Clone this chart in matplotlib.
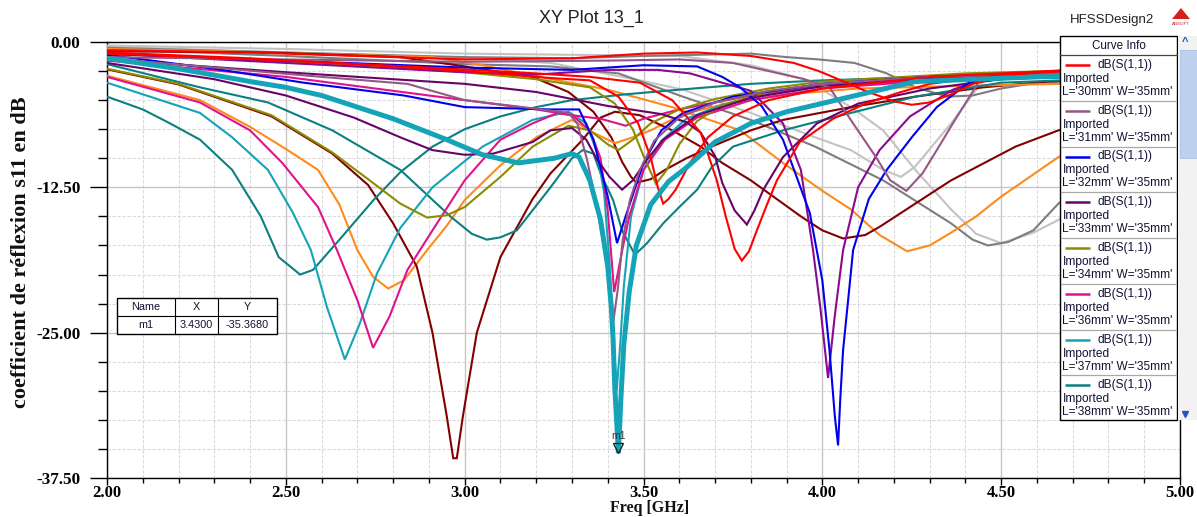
import matplotlib
matplotlib.use("Agg")
import matplotlib.pyplot as plt
from matplotlib.ticker import MultipleLocator, FormatStrFormatter
from matplotlib.patches import Rectangle, Polygon
import matplotlib.transforms as mtransforms

# ---------------------------------------------------------------- data (GHz, dB)
red_a_f = [2.0, 2.4, 2.8, 3.0, 3.3, 3.5, 3.65, 3.8, 3.92, 3.99, 4.06, 4.12, 4.2, 4.25, 4.3, 4.36, 4.42, 4.5, 4.6, 4.75, 5.0]
red_a_db = [-0.7, -0.9, -1.3, -1.5, -1.4, -1.0, -0.9, -1.2, -1.8, -2.5, -3.4, -4.2, -5.1, -5.4, -5.2, -4.5, -3.6, -3.0, -2.6, -2.3, -2.0]

red_b_f = [2.0, 2.4, 2.8, 3.0, 3.24, 3.35, 3.43, 3.485, 3.52, 3.54, 3.555, 3.57, 3.59, 3.63, 3.68, 3.75, 3.85, 4.0, 4.3, 4.7, 5.0]
red_b_db = [-0.9, -1.4, -2.1, -2.5, -3.1, -3.3, -4.7, -7.0, -9.9, -12.5, -13.9, -13.5, -12.7, -10.4, -8.2, -6.4, -5.0, -4.0, -3.0, -2.4, -2.1]

red_c_f = [2.0, 2.5, 2.9, 3.2, 3.35, 3.49, 3.58, 3.66, 3.705, 3.73, 3.755, 3.775, 3.795, 3.817, 3.845, 3.873, 3.937, 4.03, 4.12, 4.22, 4.3, 4.5, 4.75, 5.0]
red_c_db = [-1.0, -1.6, -2.2, -2.7, -3.0, -3.5, -5.0, -7.8, -11.9, -15.0, -17.8, -18.8, -18.0, -16.2, -14.0, -11.9, -8.6, -6.6, -5.3, -4.3, -3.6, -2.8, -2.4, -2.1]

mauve_a_f = [2.0, 2.3, 2.6, 2.84, 3.0, 3.19, 3.29, 3.315, 3.342, 3.37, 3.398, 3.415, 3.428, 3.442, 3.462, 3.49, 3.53, 3.6, 3.7, 3.85, 4.0, 4.3, 4.7, 5.0]
mauve_a_db = [-1.4, -2.2, -3.0, -3.6, -5.0, -5.7, -6.1, -7.0, -10.1, -14.2, -19.3, -24.2, -21.3, -17.0, -13.6, -11.0, -8.5, -6.5, -5.2, -4.2, -3.6, -3.0, -2.7, -2.5]

mauve_b_f = [2.0, 2.5, 3.0, 3.4, 3.6, 3.75, 3.85, 3.95, 4.02, 4.086, 4.15, 4.19, 4.235, 4.28, 4.32, 4.365, 4.44, 4.6, 5.0]
mauve_b_db = [-1.3, -1.5, -1.7, -1.6, -1.5, -1.8, -2.5, -3.2, -3.9, -7.0, -9.9, -11.9, -12.8, -11.3, -9.3, -7.0, -3.3, -2.7, -2.3]

blue_a_f = [2.0, 2.3, 2.55, 2.83, 3.0, 3.24, 3.32, 3.36, 3.40, 3.426, 3.45, 3.50, 3.55, 3.61, 3.75, 4.0, 4.3, 4.7, 5.0]
blue_a_db = [-1.1, -2.3, -3.5, -4.6, -5.6, -5.8, -5.8, -8.4, -13.3, -17.3, -15.0, -10.4, -7.6, -6.1, -4.7, -3.6, -3.0, -2.6, -2.4]

blue_b_f = [2.0, 2.5, 3.0, 3.3, 3.5, 3.65, 3.72, 3.77, 3.83, 3.89, 3.965, 4.0, 4.02, 4.035, 4.044, 4.05, 4.058, 4.077, 4.086, 4.13, 4.18, 4.25, 4.32, 4.41, 4.6, 5.0]
blue_b_db = [-1.0, -1.6, -2.2, -2.4, -2.0, -2.1, -3.0, -3.9, -5.5, -8.4, -14.7, -20.5, -26.5, -32.2, -34.7, -30.8, -26.5, -20.7, -17.9, -13.5, -11.0, -8.2, -5.6, -3.5, -2.8, -2.3]

dpurple_a_f = [2.0, 2.3, 2.5, 2.69, 2.82, 2.91, 3.0, 3.08, 3.19, 3.24, 3.30, 3.34, 3.37, 3.405, 3.44, 3.47, 3.51, 3.555, 3.65, 3.8, 4.0, 4.3, 4.7, 5.0]
dpurple_a_db = [-1.8, -3.2, -4.6, -6.5, -8.2, -9.3, -9.7, -9.6, -8.6, -7.6, -7.4, -8.4, -10.1, -11.6, -12.7, -11.9, -10.1, -8.4, -6.3, -4.8, -3.8, -3.1, -2.7, -2.5]

dpurple_b_f = [2.0, 2.5, 3.0, 3.2, 3.4, 3.55, 3.62, 3.66, 3.70, 3.72, 3.755, 3.789, 3.81, 3.835, 3.89, 3.985, 4.1, 4.3, 4.5, 5.0]
dpurple_b_db = [-1.5, -2.6, -3.6, -4.3, -5.5, -6.2, -6.9, -7.8, -9.8, -12.1, -14.5, -15.7, -14.5, -12.7, -9.9, -7.0, -5.3, -4.0, -3.2, -2.6]

violet_f = [2.0, 2.5, 3.0, 3.2, 3.40, 3.54, 3.63, 3.72, 3.80, 3.89, 3.94, 3.974, 3.995, 4.016, 4.035, 4.058, 4.1, 4.16, 4.245, 4.365, 4.44, 4.6, 5.0]
violet_db = [-1.0, -1.8, -2.6, -2.8, -2.4, -2.4, -2.7, -3.5, -4.2, -7.0, -11.0, -17.9, -23.0, -28.9, -23.5, -17.9, -12.5, -9.3, -6.4, -4.1, -3.3, -2.8, -2.3]

olive_a_f = [2.0, 2.2, 2.46, 2.63, 2.73, 2.82, 2.895, 2.95, 3.0, 3.1, 3.19, 3.29, 3.35, 3.40, 3.43, 3.47, 3.52, 3.6, 3.7, 3.85, 4.0, 4.4, 5.0]
olive_a_db = [-2.3, -3.6, -6.3, -9.5, -11.8, -13.9, -15.1, -14.9, -14.2, -11.6, -9.0, -7.2, -7.6, -8.8, -9.3, -8.4, -7.0, -5.8, -4.9, -4.0, -3.4, -2.7, -2.2]

olive_b_f = [2.0, 2.4, 2.8, 3.0, 3.2, 3.35, 3.42, 3.47, 3.50, 3.535, 3.565, 3.6, 3.65, 3.72, 3.85, 4.0, 4.4, 5.0]
olive_b_db = [-1.0, -1.5, -2.2, -2.6, -3.2, -3.9, -5.3, -7.5, -9.8, -12.2, -11.0, -8.8, -6.8, -5.4, -4.3, -3.6, -2.8, -2.2]

magenta_a_f = [2.0, 2.26, 2.40, 2.49, 2.59, 2.643, 2.70, 2.744, 2.79, 2.84, 2.91, 3.0, 3.10, 3.19, 3.26, 3.30, 3.35, 3.38, 3.40, 3.418, 3.44, 3.46, 3.5, 3.56, 3.65, 3.8, 4.0, 4.4, 5.0]
magenta_a_db = [-3.0, -5.2, -7.6, -10.4, -14.2, -17.9, -22.2, -26.3, -23.6, -19.6, -16.2, -11.9, -8.4, -7.0, -6.1, -6.3, -7.6, -10.0, -14.5, -21.5, -18.0, -15.0, -11.0, -8.4, -6.5, -5.0, -4.0, -3.1, -2.6]

magenta_b_f = [2.0, 2.5, 2.8, 3.0, 3.2, 3.3, 3.38, 3.45, 3.5, 3.6, 3.8, 4.0, 4.5, 5.0]
magenta_b_db = [-1.6, -3.0, -4.2, -5.0, -5.8, -6.3, -6.6, -7.2, -6.6, -5.8, -4.6, -3.8, -3.0, -2.6]

cyan_a_f = [2.0, 2.26, 2.35, 2.45, 2.52, 2.57, 2.615, 2.665, 2.707, 2.755, 2.82, 2.91, 3.05, 3.19, 3.29, 3.34, 3.37, 3.39, 3.405, 3.415, 3.425, 3.435, 3.445, 3.465, 3.5, 3.55, 3.62, 3.72, 3.85, 4.0, 4.3, 4.7, 5.0]
cyan_a_db = [-3.5, -6.1, -8.2, -11.0, -14.7, -17.9, -22.8, -27.3, -24.2, -19.9, -16.0, -12.5, -9.0, -6.7, -6.0, -7.0, -9.5, -13.0, -19.0, -25.0, -30.0, -26.0, -21.0, -15.0, -11.0, -8.5, -6.6, -5.4, -4.5, -3.8, -3.2, -2.8, -2.6]

cyan_b_f = [2.0, 2.2, 2.4, 2.5, 2.6, 2.8, 2.95, 3.05, 3.15, 3.25, 3.3, 3.32, 3.35, 3.38, 3.40, 3.41, 3.415, 3.42, 3.43, 3.437, 3.445, 3.46, 3.48, 3.52, 3.57, 3.62, 3.70, 3.8, 3.9, 4.08, 4.26, 4.6, 5.0]
cyan_b_db = [-1.4, -2.3, -3.4, -3.9, -4.6, -6.6, -8.4, -9.7, -10.4, -10.0, -9.6, -9.9, -11.9, -15.3, -19.3, -22.8, -25.6, -29.9, -35.368, -30.5, -26.0, -21.5, -17.5, -14.0, -12.0, -10.8, -8.6, -7.0, -6.0, -4.7, -3.4, -3.0, -2.8]

teal_a_f = [2.0, 2.1, 2.17, 2.26, 2.35, 2.43, 2.48, 2.54, 2.576, 2.65, 2.745, 2.82, 2.91, 3.0, 3.1, 3.2, 3.3, 3.45, 3.6, 3.8, 4.0, 4.3, 4.6, 5.0]
teal_a_db = [-4.7, -5.8, -6.9, -8.4, -11.0, -15.0, -18.5, -20.0, -19.6, -17.0, -13.6, -11.2, -9.0, -7.5, -6.4, -5.6, -5.0, -4.5, -4.1, -3.6, -3.3, -3.0, -2.8, -2.6]

teal_b_f = [2.0, 2.26, 2.45, 2.63, 2.82, 2.96, 3.02, 3.062, 3.10, 3.146, 3.24, 3.30, 3.33, 3.36, 3.38, 3.415, 3.44, 3.476, 3.51, 3.555, 3.60, 3.65, 3.69, 3.75, 3.89, 4.08, 4.26, 4.5, 5.0]
teal_b_db = [-1.9, -3.9, -5.2, -7.6, -11.0, -15.0, -16.5, -17.0, -16.8, -16.2, -12.5, -10.0, -9.3, -9.6, -11.3, -13.6, -16.2, -18.3, -17.3, -15.6, -14.2, -12.7, -10.8, -9.0, -7.6, -6.1, -4.7, -3.5, -2.9]

orange_a_f = [2.0, 2.45, 2.91, 3.05, 3.21, 3.40, 3.58, 3.77, 3.89, 4.0, 4.08, 4.16, 4.237, 4.30, 4.36, 4.43, 4.50, 4.58, 4.66, 4.8, 5.0]
orange_a_db = [-0.6, -0.9, -1.3, -2.0, -3.0, -4.1, -5.6, -7.6, -10.4, -12.8, -14.4, -16.6, -18.0, -17.5, -16.4, -15.0, -13.3, -11.6, -9.9, -7.6, -5.5]

orange_b_f = [2.0, 2.26, 2.40, 2.5, 2.59, 2.65, 2.70, 2.744, 2.786, 2.83, 2.895, 2.95, 3.0, 3.1, 3.2, 3.30, 3.36, 3.42, 3.47, 3.52, 3.61, 3.72, 3.9, 4.1, 4.5, 5.0]
orange_b_db = [-2.9, -5.0, -7.3, -9.2, -11.0, -14.0, -17.9, -20.2, -21.2, -20.5, -17.9, -15.8, -13.6, -10.6, -8.2, -6.7, -7.8, -8.7, -8.2, -7.6, -6.2, -5.4, -4.5, -4.0, -3.7, -3.4]

maroon_a_f = [2.0, 2.45, 2.82, 3.0, 3.19, 3.29, 3.36, 3.41, 3.44, 3.465, 3.48, 3.52, 3.56, 3.62, 3.69, 3.8, 3.89, 4.08, 4.26, 4.45, 4.63, 5.0]
maroon_a_db = [-0.8, -0.9, -1.3, -2.1, -3.0, -4.3, -6.0, -8.2, -10.3, -11.6, -12.1, -11.8, -11.0, -10.0, -9.0, -7.6, -6.7, -5.6, -4.7, -3.9, -3.4, -2.9]

maroon_b_f = [2.0, 2.2, 2.46, 2.63, 2.73, 2.80, 2.866, 2.91, 2.95, 2.968, 2.978, 2.995, 3.034, 3.10, 3.19, 3.24, 3.33, 3.38, 3.42, 3.49, 3.58, 3.66, 3.72, 3.80, 3.94, 4.0, 4.058, 4.12, 4.16, 4.36, 4.54, 4.66, 4.8, 5.0]
maroon_b_db = [-2.35, -3.65, -6.4, -9.6, -12.3, -15.6, -19.3, -25.0, -32.2, -35.8, -35.8, -32.2, -25.0, -18.5, -13.5, -11.3, -8.4, -6.5, -6.0, -6.3, -7.6, -9.0, -10.4, -11.9, -15.0, -16.2, -16.9, -16.6, -15.9, -11.9, -9.0, -7.6, -6.5, -5.5]

gray_a_f = [2.0, 2.5, 3.0, 3.3, 3.5, 3.65, 3.80, 3.9, 3.99, 4.09, 4.18, 4.26, 4.35, 4.42, 4.5, 4.6, 5.0]
gray_a_db = [-0.5, -0.9, -1.3, -1.4, -1.2, -1.1, -1.0, -1.3, -1.5, -1.8, -2.7, -3.9, -4.7, -4.6, -4.0, -3.5, -3.0]

gray_b_f = [2.0, 2.5, 3.0, 3.24, 3.43, 3.61, 3.80, 3.98, 4.17, 4.36, 4.42, 4.463, 4.52, 4.59, 4.66, 4.8, 5.0]
gray_b_db = [-0.6, -1.2, -1.9, -2.1, -2.7, -4.7, -6.7, -9.0, -11.9, -15.6, -17.0, -17.5, -17.2, -16.2, -13.9, -10.5, -7.5]

lgray_a_f = [2.0, 2.5, 3.0, 3.24, 3.49, 3.61, 3.80, 3.98, 4.08, 4.17, 4.22, 4.26, 4.36, 4.45, 4.6, 5.0]
lgray_a_db = [-0.4, -0.9, -1.4, -1.8, -3.3, -4.1, -6.1, -8.2, -9.3, -11.0, -11.6, -10.7, -7.0, -3.3, -2.7, -2.4]

lgray_b_f = [2.0, 2.5, 3.0, 3.3, 3.6, 3.8, 3.95, 4.08, 4.17, 4.26, 4.36, 4.43, 4.50, 4.59, 4.66, 4.8, 5.0]
lgray_b_db = [-0.3, -0.6, -1.0, -1.1, -1.2, -2.0, -3.2, -5.6, -7.6, -11.0, -14.4, -16.5, -17.3, -16.4, -15.3, -12.5, -9.5]

# legend entries (visible part of the curve list)
legend_lengths = ["30", "31", "32", "33", "34", "36", "37", "38"]
legend_width = "35"

# marker m1
m1_freq = 3.43
m1_db = -35.368

# ---------------------------------------------------------------- colours
RED = "#ff0000"
MAUVE = "#955886"
BLUE = "#0000ee"
DPURPLE = "#680468"
VIOLET = "#8a0a92"
OLIVE = "#8c8c00"
MAGENTA = "#e0128c"
CYAN = "#15a3b8"
TEAL = "#0c8080"
ORANGE = "#ff8a1c"
MAROON = "#830000"
GRAY = "#7d7d7d"
LGRAY = "#c3c3c3"

legend_colors = [RED, MAUVE, BLUE, DPURPLE, OLIVE, MAGENTA, CYAN, TEAL]

curves = [
    (lgray_b_f, lgray_b_db, LGRAY, 1.5),
    (lgray_a_f, lgray_a_db, LGRAY, 1.5),
    (gray_a_f, gray_a_db, GRAY, 1.5),
    (gray_b_f, gray_b_db, GRAY, 1.5),
    (orange_a_f, orange_a_db, ORANGE, 1.5),
    (maroon_a_f, maroon_a_db, MAROON, 1.5),
    (orange_b_f, orange_b_db, ORANGE, 1.5),
    (maroon_b_f, maroon_b_db, MAROON, 1.5),
    (teal_a_f, teal_a_db, TEAL, 1.5),
    (teal_b_f, teal_b_db, TEAL, 1.5),
    (cyan_a_f, cyan_a_db, CYAN, 1.5),
    (magenta_b_f, magenta_b_db, MAGENTA, 1.5),
    (magenta_a_f, magenta_a_db, MAGENTA, 1.5),
    (olive_a_f, olive_a_db, OLIVE, 1.5),
    (olive_b_f, olive_b_db, OLIVE, 1.5),
    (dpurple_a_f, dpurple_a_db, DPURPLE, 1.5),
    (dpurple_b_f, dpurple_b_db, DPURPLE, 1.5),
    (violet_f, violet_db, VIOLET, 1.5),
    (blue_a_f, blue_a_db, BLUE, 1.5),
    (blue_b_f, blue_b_db, BLUE, 1.5),
    (mauve_b_f, mauve_b_db, MAUVE, 1.5),
    (mauve_a_f, mauve_a_db, MAUVE, 1.5),
    (red_c_f, red_c_db, RED, 1.5),
    (red_b_f, red_b_db, RED, 1.5),
    (red_a_f, red_a_db, RED, 1.5),
    (cyan_b_f, cyan_b_db, CYAN, 3.6),
]

# ---------------------------------------------------------------- figure
W, H = 1197, 517
fig = plt.figure(figsize=(W / 100, H / 100), dpi=100)
fig.patch.set_facecolor("white")

x0, x1, y0, y1 = 107, 1180, 42, 478
ax = fig.add_axes([x0 / W, (H - y1) / H, (x1 - x0) / W, (y1 - y0) / H])

for f, db, col, lw in curves:
    ax.plot(f, db, color=col, lw=lw, solid_joinstyle="miter", zorder=3)

ax.set_xlim(2.0, 5.0)
ax.set_ylim(-37.5, 0.0)

ax.xaxis.set_major_locator(MultipleLocator(0.5))
ax.xaxis.set_minor_locator(MultipleLocator(0.1))
ax.yaxis.set_major_locator(MultipleLocator(12.5))
ax.yaxis.set_minor_locator(MultipleLocator(2.5))
ax.xaxis.set_major_formatter(FormatStrFormatter("%.2f"))
ax.yaxis.set_major_formatter(FormatStrFormatter("%.2f"))

ax.grid(which="major", color="#c6c6c6", lw=1.0, ls="-", zorder=0)
ax.grid(which="minor", color="#dadada", lw=0.8, ls=(0, (3, 1.5)), zorder=0)
ax.set_axisbelow(True)

for s in ax.spines.values():
    s.set_color("black")
    s.set_linewidth(1.0)

ax.tick_params(axis="y", which="major", direction="out", length=12, width=1, pad=7)
ax.tick_params(axis="y", which="minor", direction="out", length=6.5, width=1)
ax.tick_params(axis="x", which="major", direction="out", length=5, width=1, pad=0)
ax.tick_params(axis="x", which="minor", direction="out", length=3.5, width=1)
for lab in ax.get_yticklabels():
    lab.set_fontfamily("Liberation Serif")
    lab.set_fontweight("bold")
    lab.set_fontsize(12.3)
for lab in ax.get_xticklabels():
    lab.set_fontfamily("Liberation Serif")
    lab.set_fontweight("bold")
    lab.set_fontsize(12)

# marker m1 on the thick trace
mk_tr = mtransforms.offset_copy(ax.transData, fig=fig, x=0, y=5, units="dots")
ax.plot([m1_freq], [m1_db], marker="v", ms=6.5, mfc="none", mec="#222222", mew=1.0,
        transform=mk_tr, zorder=6, clip_on=False)
txt_tr = mtransforms.offset_copy(ax.transData, fig=fig, x=0, y=17, units="dots")
ax.text(m1_freq, m1_db, "m1", transform=txt_tr, ha="center", va="center",
        fontsize=7.5, family="Liberation Sans", color="#333333", zorder=6)

# ---------------------------------------------------------------- overlay in pixel space
ov = fig.add_axes([0, 0, 1, 1])
ov.set_xlim(0, W)
ov.set_ylim(H, 0)
ov.axis("off")
ov.patch.set_alpha(0)

SANS = "Liberation Sans"
SERIF = "Liberation Serif"

ov.text(591, 18, "XY Plot 13_1", ha="center", va="center", fontsize=13, family=SANS, color="#222222")
ov.text(1112, 20, "HFSSDesign2", ha="center", va="center", fontsize=9.5, family=SANS, color="#222222")
ov.add_patch(Polygon([[1172, 19], [1181, 8], [1190, 19]], closed=True, fc="#d42020", ec="none"))
ov.text(1181, 24, "ANSOFT", ha="center", va="center", fontsize=3.2, family=SANS, color="#c02020")

ov.text(21, 252, "coefficient de réflexion s11 en dB", rotation=90, ha="center", va="center",
        fontsize=16, family=SERIF, fontweight="bold", color="#111111")
ov.text(650, 508, "Freq [GHz]", ha="center", va="center", fontsize=11.5, family=SERIF,
        fontweight="bold", color="#111111")

# curve info panel
lx0, lx1, ly0, ly1 = 1060, 1177, 36, 420
ov.add_patch(Rectangle((lx0, ly0), lx1 - lx0, ly1 - ly0, fc="white", ec="black", lw=1.0, zorder=5))
ov.text((lx0 + lx1) / 2, 46, "Curve Info", ha="center", va="center", fontsize=8.4, family=SANS,
        color="#111133", zorder=6)
ov.plot([lx0, lx1], [55, 55], color="#444444", lw=0.9, zorder=6)
row_h = 45.75
for i, (L, col) in enumerate(zip(legend_lengths, legend_colors)):
    top = 55 + i * row_h
    ov.plot([1065, 1090], [top + 10, top + 10], color=col, lw=1.8, zorder=6, solid_capstyle="butt")
    ov.text(1098, top + 10, "dB(S(1,1))", ha="left", va="center", fontsize=8.6, family=SANS,
            color="#111133", zorder=6)
    ov.text(1063, top + 24, "Imported", ha="left", va="center", fontsize=8.6, family=SANS,
            color="#111133", zorder=6)
    ov.text(1062, top + 37, "L='%smm' W='%smm'" % (L, legend_width), ha="left", va="center",
            fontsize=8.6, family=SANS, color="#111133", zorder=6)
    if i < len(legend_lengths) - 1:
        ov.plot([lx0 + 1, lx1 - 1], [top + row_h, top + row_h], color="#a8a8a8", lw=0.9, zorder=6)

# scroll bar
ov.add_patch(Rectangle((1178, ly0), 19, ly1 - ly0, fc="#f2f2f2", ec="none", zorder=5))
ov.add_patch(Rectangle((1180, 50), 17, 108, fc="#bdd0ee", ec="#a9bfe4", lw=0.6, zorder=6))
ov.text(1185, 42, "^", ha="center", va="center", fontsize=8, fontweight="bold", color="#2a4fc4",
        family=SANS, zorder=7)
ov.plot([1185], [414], marker="v", ms=4, color="#2a4fc4", zorder=7)

# marker readout table
tx0, tx1, ty0, ty1 = 117, 277, 298, 334
ov.add_patch(Rectangle((tx0, ty0), tx1 - tx0, ty1 - ty0, fc="white", ec="black", lw=1.0, zorder=5))
ov.plot([tx0, tx1], [316, 316], color="black", lw=0.8, zorder=6)
for cx in (175, 218):
    ov.plot([cx, cx], [ty0, ty1], color="black", lw=0.8, zorder=6)
for cx, head, val in ((146, "Name", "m1"), (196.5, "X", "%.4f" % m1_freq), (247.5, "Y", "%.4f" % m1_db)):
    ov.text(cx, 307, head, ha="center", va="center", fontsize=7.8, family=SANS, color="#111133", zorder=6)
    ov.text(cx, 325, val, ha="center", va="center", fontsize=7.8, family=SANS, color="#111133", zorder=6)

fig.savefig("out.png", dpi=100)
